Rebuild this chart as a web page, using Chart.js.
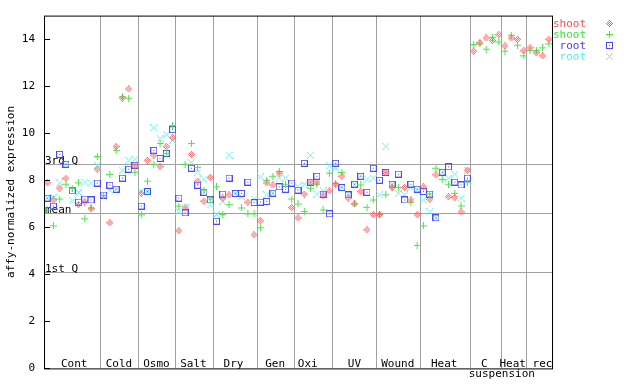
<!DOCTYPE html>
<html><head><meta charset="utf-8">
<script src="https://cdn.jsdelivr.net/npm/chart.js@4"></script>
<style>html,body{margin:0;padding:0;background:#fff;}canvas{display:block;}</style>
</head><body>
<canvas id="c" width="640" height="384"></canvas>
<script>
// ---- data (sample index = position along x) ----
const shootRed = [7.89,7.16,7.67,8.08,null,6.96,7.07,6.78,8.47,
  null,6.19,9.43,11.49,11.88,8.64,
  7.44,8.85,9.06,8.58,9.43,9.81,
  5.85,6.82,9.10,7.96,7.11,8.12,
  null,7.24,7.38,null,null,7.07,5.68,
  6.27,7.89,7.80,8.30,null,6.84,
  6.40,7.41,7.92,7.92,7.33,7.55,
  7.83,8.17,7.24,6.99,7.52,5.89,6.54,
  6.54,8.33,7.69,null,7.69,7.16,6.54,
  7.72,7.19,8.23,null,7.30,7.27,6.65,8.43,
  13.49,13.85,14.05,13.94,14.19,
  13.71,14.05,13.99,13.51,
  13.63,13.42,13.29,13.99];
const shootGreen = [6.74,6.06,7.20,7.83,7.67,7.89,6.36,6.82,9.01,
  7.35,8.25,9.27,11.55,11.49,8.34,
  6.53,7.96,8.68,9.56,9.14,10.32,
  6.90,8.68,9.56,8.55,7.58,7.20,
  7.72,6.54,6.96,null,6.82,6.57,6.57,
  5.98,8.00,8.17,8.37,7.83,7.20,
  6.99,6.67,7.66,7.83,6.74,8.30,
  7.86,8.33,null,6.99,7.80,6.85,7.16,
  6.54,7.38,7.69,7.69,null,7.06,5.23,
  6.06,7.41,8.51,8.03,7.83,7.44,6.91,7.92,
  13.77,13.80,13.57,14.08,13.88,
  13.49,14.16,13.74,13.29,
  13.51,13.51,13.63,13.80];
const rootBlue = [7.24,6.90,9.10,8.68,7.55,7.07,7.20,7.16,7.88,
  7.37,7.79,7.62,8.09,8.47,8.64,
  6.90,7.52,9.27,8.93,9.14,10.15,
  7.24,6.61,8.51,7.79,7.49,7.16,
  6.26,7.41,8.09,7.44,7.44,7.92,7.05,
  7.07,7.10,7.45,7.72,7.62,7.88,
  7.58,8.72,7.92,8.17,7.41,6.57,
  8.72,7.69,7.38,7.83,8.17,7.49,8.51,
  8.00,8.33,7.83,8.26,7.16,7.83,7.62,
  7.52,7.41,6.40,8.34,8.57,7.92,7.80,8.09,
  null,null,null,null,null,
  null,null,null,null,
  null,null,null,null];
const rootCyan = [7.24,7.27,7.89,8.68,7.13,7.48,7.92,7.88,8.63,
  7.30,7.58,7.62,8.43,8.85,8.89,
  7.54,7.52,10.23,9.77,9.94,9.69,
  6.68,6.82,8.76,8.34,8.04,6.95,
  6.54,7.10,9.07,7.44,7.30,null,7.20,
  8.14,7.38,7.45,8.09,8.09,null,
  7.72,7.83,9.06,7.41,7.55,8.61,
  8.54,7.69,7.38,7.83,8.20,8.04,8.09,
  7.38,9.44,7.83,7.44,7.38,7.69,7.60,
  7.16,6.65,6.40,8.34,8.09,8.26,7.24,8.43,
  null,null,null,null,null,
  null,null,null,null,
  null,null,null,null];
const seriesNames = ['shoot','shoot','root','root'];
const categories = ['Cont','Cold','Osmo','Salt','Dry','Gen','Oxi','UV','Wound','Heat','C','suspension','Heat rec'];
const categoryPos = [4.31,11.44,17.42,23.33,29.71,36.36,41.55,49.0,55.9,63.3,69.7,72.5,76.35];
const separators = [8.5,14.5,20.5,26.5,33.5,39.5,45.5,52.5,59.5,67.5,72.5,76.5];
const yTicks = [0,2,4,6,8,10,12,14];
const qValues = [8.68,6.62,4.08];
const qLabels = ['3rd Q','mean','1st Q'];

// ---- marker images ----
function marker(color, rows){
  const c=document.createElement('canvas'); c.width=7; c.height=7;
  const g=c.getContext('2d'); g.fillStyle=color;
  rows.forEach((r,j)=>{ for(let k=0;k<r.length;k++) if(r[k]==='X') g.fillRect(k,j,1,1); });
  return c;
}
const mkDiamond = marker('#ff5a5a',['...X...','..X.X..','.X.X.X.','X.X.X.X','.X.X.X.','..X.X..','...X...']);
const mkPlus = marker('#46e846',['...X...','...X...','...X...','XXXXXXX','...X...','...X...','...X...']);
const mkSquare = marker('#4a4aff',['XXXXXXX','X.....X','X.....X','X..X..X','X.....X','X.....X','XXXXXXX']);
const mkX = marker('#5af0f0',['X.....X','.X...X.','..X.X..','...X...','..X.X..','.X...X.','X.....X']);
const markers=[mkDiamond,mkPlus,mkSquare,mkX];
const textColors=['#ff4a4a','#3ee03e','#4040ff','#50f0f0'];

const toPts = arr => arr.map((v,i)=> v==null?null:{x:i,y:v}).filter(Boolean);
const allSeries=[shootRed,shootGreen,rootBlue,rootCyan];
const FONT='"DejaVu Sans Mono", monospace';

const decor = {
  id:'decor',
  beforeDatasetsDraw(chart){
    const {ctx, chartArea:a, scales:{y}} = chart;
    ctx.save();
    ctx.strokeStyle='#a0a0a0'; ctx.lineWidth=1;
    ctx.font='11px '+FONT; ctx.fillStyle='#000'; ctx.textAlign='left'; ctx.textBaseline='alphabetic';
    qValues.forEach((v,k)=>{
      const py=Math.round(y.getPixelForValue(v))+0.5;
      ctx.beginPath(); ctx.moveTo(a.left,py); ctx.lineTo(a.right,py); ctx.stroke();
      ctx.fillText(qLabels[k], a.left+1, py-0.5);
    });
    ctx.restore();
  },
  afterDatasetsDraw(chart){
    const {ctx, chartArea:a, scales:{x,y}} = chart;
    ctx.save();
    ctx.strokeStyle='#000'; ctx.lineWidth=1;
    ctx.strokeRect(a.left+0.5,a.top+0.5,a.right-a.left,a.bottom-a.top);
    yTicks.forEach(v=>{
      const py=Math.round(y.getPixelForValue(v))+0.5;
      ctx.beginPath(); ctx.moveTo(a.left,py); ctx.lineTo(a.left+6,py); ctx.stroke();
    });
    ctx.font='11px '+FONT; ctx.fillStyle='#000'; ctx.textAlign='center'; ctx.textBaseline='alphabetic';
    categories.forEach((c,k)=>{
      const yy = c==='suspension' ? a.bottom+9 : a.bottom-1.5;
      ctx.fillText(c, x.getPixelForValue(categoryPos[k]), yy);
    });
    // legend
    ctx.textAlign='right';
    chart.data.datasets.forEach((d,k)=>{
      const base=27+k*11;
      ctx.fillStyle=textColors[k];
      ctx.fillText(d.label, 586, base);
      ctx.drawImage(markers[k], 606, base-7);
    });
    ctx.restore();
  }
};

new Chart(document.getElementById('c'),{
  type:'scatter',
  data:{datasets: allSeries.map((s,k)=>({
    label:seriesNames[k], data:toPts(s),
    pointStyle:markers[k], pointRadius:4, pointHoverRadius:4,
    borderColor:textColors[k], backgroundColor:textColors[k], showLine:false
  }))},
  options:{
    responsive:false, animation:false, devicePixelRatio:1,
    layout:{padding:{left:0,top:13,right:88,bottom:0}},
    plugins:{legend:{display:false}, tooltip:{enabled:false}},
    scales:{
      x:{type:'linear', min:-0.5, max:80.5,
        afterBuildTicks:s=>{ s.ticks = separators.map(v=>({value:v})); },
        afterFit:s=>{ s.height=15; },
        ticks:{display:false},
        grid:{color:'#a0a0a0', drawTicks:false, lineWidth:1},
        border:{display:false}
      },
      y:{type:'linear', min:0, max:15,
        afterBuildTicks:s=>{ s.ticks = yTicks.map(v=>({value:v})); },
        afterFit:s=>{ s.width=44; },
        ticks:{color:'#000', padding:9, font:{family:FONT,size:11}},
        grid:{display:false, drawTicks:false},
        border:{display:false},
        title:{display:true, text:'affy-normalized expression', color:'#000', font:{family:FONT,size:11}, padding:{top:5,bottom:0}}
      }
    }
  },
  plugins:[decor]
});
</script>
</body></html>
